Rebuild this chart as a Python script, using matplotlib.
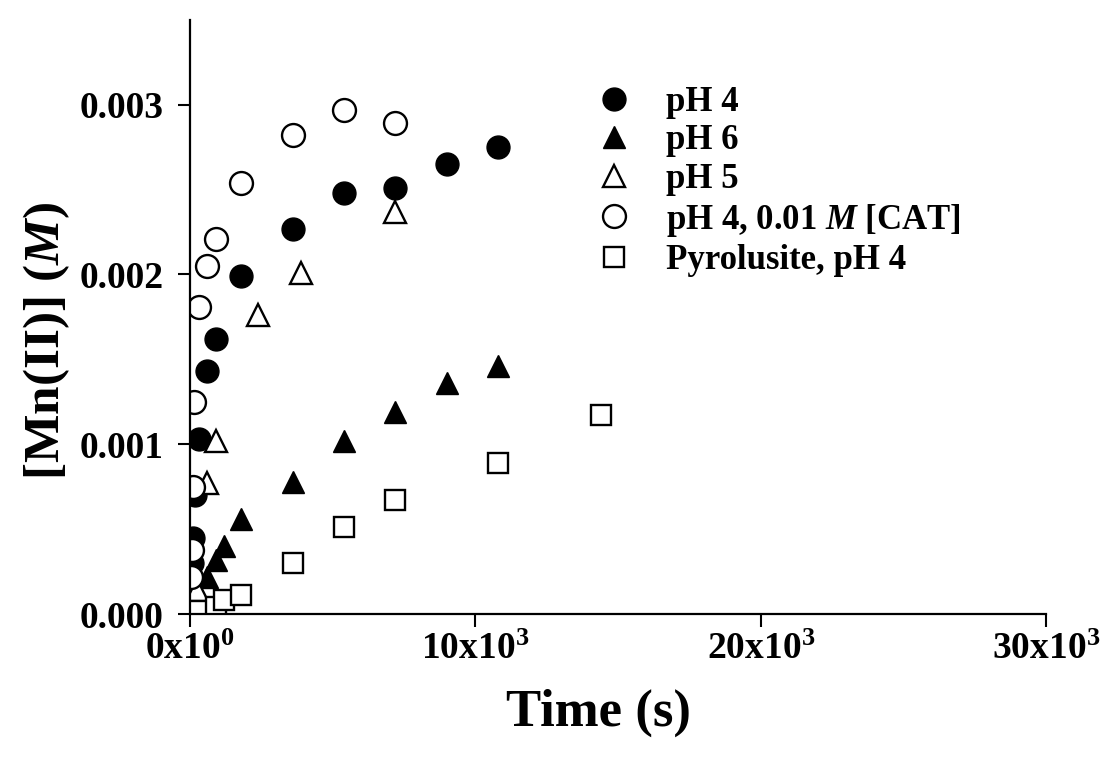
import matplotlib
matplotlib.use("Agg")
import matplotlib.pyplot as plt

plt.rcParams['font.family'] = ['Liberation Serif', 'DejaVu Serif']
plt.rcParams['font.weight'] = 'bold'
plt.rcParams['mathtext.fontset'] = 'custom'
plt.rcParams['mathtext.rm'] = 'Liberation Serif:bold'
plt.rcParams['mathtext.it'] = 'Liberation Serif:italic:bold'
plt.rcParams['mathtext.bf'] = 'Liberation Serif:bold'

# datos: tiempo (s) y [Mn(II)] (M)
t_ph4 = [60, 120, 180, 300, 600, 900, 1800, 3600, 5400, 7200, 9000, 10800]
mn_ph4 = [0.00030, 0.00045, 0.00070, 0.00103, 0.00143, 0.00162, 0.00199,
          0.00227, 0.00248, 0.00251, 0.00265, 0.00275]

t_ph6 = [600, 900, 1200, 1800, 3600, 5400, 7200, 9000, 10800]
mn_ph6 = [0.00022, 0.00032, 0.00040, 0.00056, 0.00078, 0.00102, 0.00119,
          0.00136, 0.00146]

t_ph5 = [240, 600, 900, 2400, 3900, 7200]
mn_ph5 = [0.00014, 0.00077, 0.00102, 0.00176, 0.00201, 0.00237]

t_cat = [20, 60, 90, 150, 300, 600, 900, 1800, 3600, 5400, 7200]
mn_cat = [0.00022, 0.00038, 0.00075, 0.00125, 0.00181, 0.00205, 0.00221,
          0.00254, 0.00282, 0.00297, 0.00289]

t_pyr = [60, 300, 900, 1200, 1800, 3600, 5400, 7200, 10800, 14400]
mn_pyr = [0.00001, 0.00002, 0.00004, 0.00008, 0.00011, 0.00030, 0.00051,
          0.00067, 0.00089, 0.00117]

x_ticks = [0, 10000, 20000, 30000]
x_labels = ['0x10$^{0}$', '10x10$^{3}$', '20x10$^{3}$', '30x10$^{3}$']
y_ticks = [0.0, 0.001, 0.002, 0.003]
y_labels = ['0.000', '0.001', '0.002', '0.003']

fig = plt.figure(figsize=(11.11, 7.59), dpi=100)
ax = fig.add_axes([0.171, 0.191, 0.7705, 0.783])

ms = 16.5
ax.plot(t_ph4, mn_ph4, 'o', color='black', ms=ms, label='pH 4')
ax.plot(t_ph6, mn_ph6, '^', color='black', ms=ms, label='pH 6')
ax.plot(t_ph5, mn_ph5, '^', mfc='white', mec='black', mew=1.7, ms=ms, label='pH 5')
ax.plot(t_cat, mn_cat, 'o', mfc='white', mec='black', mew=1.7, ms=ms,
        label='pH 4, 0.01 $\\it{M}$ [CAT]')
ax.plot(t_pyr, mn_pyr, 's', mfc='white', mec='black', mew=1.7, ms=14,
        label='Pyrolusite, pH 4')

ax.set_xlim(0, 30000)
ax.set_ylim(0, 0.0035)
ax.set_xticks(x_ticks)
ax.set_xticklabels(x_labels)
ax.set_yticks(y_ticks)
ax.set_yticklabels(y_labels)
ax.tick_params(axis='both', direction='out', length=9, width=1.5, labelsize=27)
ax.tick_params(axis='x', pad=4)
ax.tick_params(axis='y', pad=10)

for s in ['top', 'right']:
    ax.spines[s].set_visible(False)
for s in ['left', 'bottom']:
    ax.spines[s].set_linewidth(1.6)
    ax.spines[s].set_clip_on(False)

for lab in ax.get_xticklabels() + ax.get_yticklabels():
    lab.set_fontweight('bold')

ax.set_xlabel('Time (s)', fontsize=38, fontweight='bold')
ax.xaxis.set_label_coords(0.477, -0.125)
ax.set_ylabel('[Mn(II)] ($\\it{M}$)', fontsize=37, fontweight='bold')
ax.yaxis.set_label_coords(-0.138, 0.46)

leg = ax.legend(loc='upper left', bbox_to_anchor=(0.459, 0.912), frameon=False,
                fontsize=25, labelspacing=0.16, handletextpad=1.0,
                borderaxespad=0, handlelength=1.0)
for tx in leg.get_texts():
    tx.set_fontweight('bold')

fig.savefig('out.png', dpi=100)
